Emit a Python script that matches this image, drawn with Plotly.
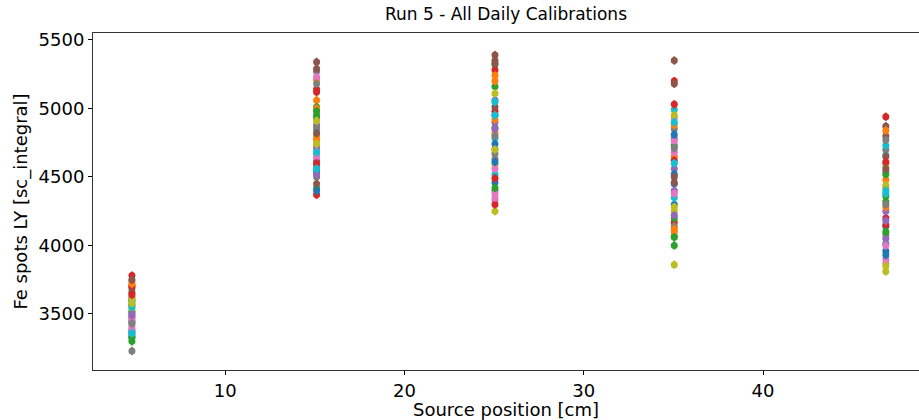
import plotly.graph_objects as go

# Source positions [cm]
positions = [4.8, 15.1, 25.05, 35.05, 46.85]

# LY per daily calibration (one list per source position, one entry per calibration)
ly_pos5 = [3330, 3560, 3300, 3780, 3480, 3700, 3420, 3230, 3460, 3590,
           3350, 3650, 3520, 3690, 3510, 3620, 3400, 3440, 3540, 3380,
           3600, 3740, 3570, 3710, 3450, 3660, 3470, 3500, 3610, 3550,
           3370, 3720, 3330, 3640, 3490, 3750, 3390, 3430, 3580, 3360]
ly_pos15 = [4620, 5060, 4420, 4370, 4880, 5340, 4700, 4500, 4760, 4840,
            4930, 5210, 5010, 5120, 4580, 4450, 4660, 5270, 4800, 4990,
            4540, 5000, 4950, 5140, 4720, 5290, 4640, 4860, 4910, 4680,
            4400, 4780, 4980, 4600, 4520, 4820, 5230, 5180, 4740, 4560]
ly_pos25 = [4950, 4820, 5320, 5280, 4700, 5390, 4330, 4400, 4250, 4780,
            4460, 5240, 5160, 4980, 5060, 5330, 4380, 4630, 4590, 4520,
            4740, 5200, 4860, 4300, 4900, 5010, 4560, 4670, 5110, 5050,
            4610, 4920, 4420, 4490, 4850, 5350, 4350, 4800, 4700, 4950]
ly_pos35 = [4300, 4650, 4000, 4170, 4560, 5350, 4680, 4850, 3860, 4990,
            4450, 4880, 4200, 5200, 4780, 5180, 4930, 4070, 4250, 4350,
            4520, 4100, 4730, 4620, 4400, 4460, 4760, 4140, 4950, 4600,
            4810, 4120, 4060, 5030, 4220, 4500, 4380, 4710, 4280, 4900]
ly_pos47 = [4140, 4480, 4320, 4940, 4540, 4800, 4600, 4080, 3810, 4660,
            4010, 4420, 4360, 4200, 4250, 4870, 3900, 4700, 4580, 4380,
            3960, 4280, 4520, 4150, 4050, 4650, 3870, 4300, 4440, 4730,
            3930, 4840, 4100, 4610, 4180, 4560, 4000, 4770, 3850, 4400]
ly_err = 30

y_ticks = [3500, 4000, 4500, 5000, 5500]
x_ticks = [10, 20, 30, 40]

colors = ["#1f77b4", "#ff7f0e", "#2ca02c", "#d62728", "#9467bd",
          "#8c564b", "#e377c2", "#7f7f7f", "#bcbd22", "#17becf"]

fig = go.Figure()
for i in range(len(ly_pos5)):
    ys = [ly_pos5[i], ly_pos15[i], ly_pos25[i], ly_pos35[i], ly_pos47[i]]
    c = colors[i % 10]
    fig.add_trace(go.Scatter(
        x=positions, y=ys, mode="markers",
        marker=dict(color=c, size=7, line=dict(width=0)),
        error_y=dict(type="constant", value=ly_err, color=c, thickness=2, width=0),
        showlegend=False,
    ))

font = dict(family="DejaVu Sans", size=18, color="black")
fig.update_layout(
    width=919, height=420,
    margin=dict(l=93, r=0, t=33, b=50, autoexpand=False),
    paper_bgcolor="white", plot_bgcolor="white",
    font=font,
    title=dict(text="Run 5 - All Daily Calibrations", x=0.5, xref="paper",
               y=1 - 14 / 420, yref="container", xanchor="center", yanchor="middle",
               font=dict(family="DejaVu Sans", size=17, color="black")),
)
fig.update_xaxes(
    range=[2.63, 48.70], tickvals=x_ticks, ticks="outside", ticklen=4,
    tickcolor="black", showline=True, linecolor="#333", linewidth=1, mirror=True,
    showgrid=False, zeroline=False, automargin=False,
    tickfont=font,
    title=dict(text="Source position [cm]", standoff=2, font=font),
)
fig.update_yaxes(
    range=[3091, 5551], tickvals=y_ticks, ticks="outside", ticklen=4,
    tickcolor="black", showline=True, linecolor="#333", linewidth=1, mirror=True,
    showgrid=False, zeroline=False, automargin=False,
    tickfont=font,
    title=dict(text="Fe spots LY [sc_integral]", standoff=6, font=font),
)
fig.write_html("out.html",
               config={"displayModeBar": False},
               post_script="document.body.style.margin='0';document.body.style.overflow='hidden';")
